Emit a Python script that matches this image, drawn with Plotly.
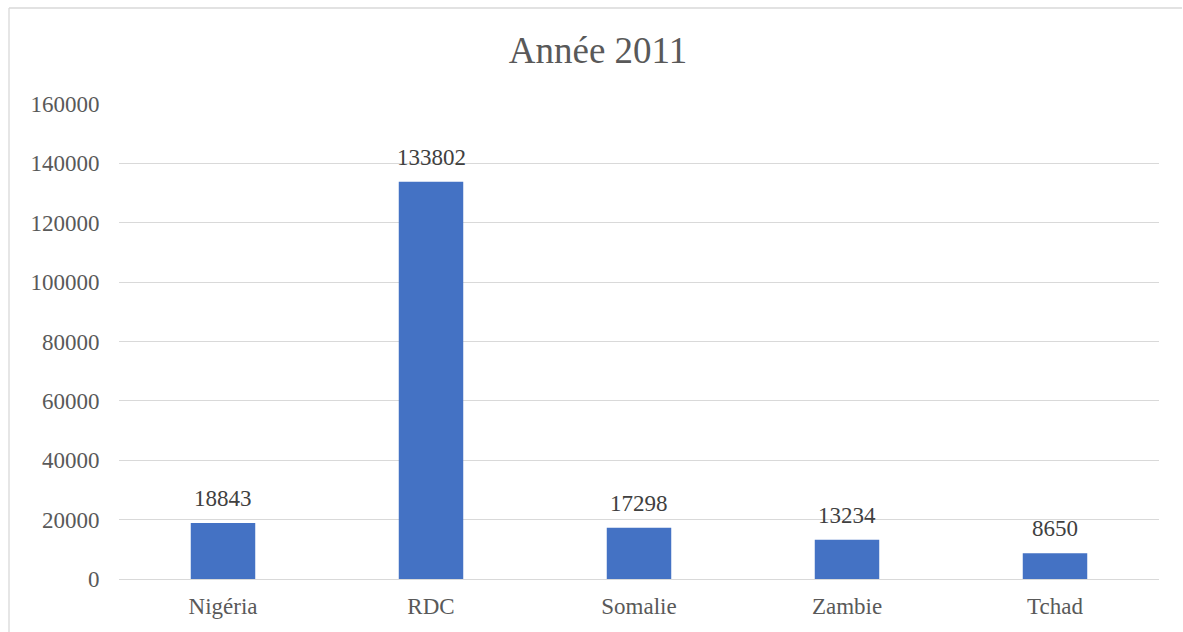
import plotly.graph_objects as go

categories = ["Nigéria", "RDC", "Somalie", "Zambie", "Tchad"]
values = [18843, 133802, 17298, 13234, 8650]
y_ticks = [0, 20000, 40000, 60000, 80000, 100000, 120000, 140000, 160000]

W, H = 1183, 632
L, R, T, B = 119, 24, 104, 53
pw, ph = W - L - R, H - T - B
SERIF = "Liberation Serif, Times New Roman, serif"

fig = go.Figure()
fig.add_trace(go.Bar(
    x=categories, y=values,
    marker=dict(color="#4472C4", line=dict(width=0)),
    width=0.31,
    hoverinfo="x+y",
))

for c, v in zip(categories, values):
    fig.add_annotation(x=c, y=v, text=str(v), showarrow=False,
                       yanchor="bottom", yshift=10,
                       font=dict(family=SERIF, size=23, color="#404040"))

# chart border (left and top visible only), kept inside the canvas
fig.add_shape(type="line", xref="paper", yref="paper",
              x0=(9 - L) / pw, x1=(9 - L) / pw,
              y0=(H - B - H) / ph, y1=(H - B - 8) / ph,
              line=dict(color="#d9d9d9", width=1.3), layer="below")
fig.add_shape(type="line", xref="paper", yref="paper",
              x0=(9 - L) / pw, x1=(W - 1 - L) / pw,
              y0=(H - B - 8) / ph, y1=(H - B - 8) / ph,
              line=dict(color="#d9d9d9", width=1.3), layer="below")

fig.update_layout(
    width=W, height=H,
    margin=dict(l=L, r=R, t=T, b=B),
    paper_bgcolor="white", plot_bgcolor="white",
    title=dict(text="Année 2011", x=598 / W, xanchor="center",
               y=1 - 50 / H, yanchor="middle", yref="container",
               font=dict(family=SERIF, size=37, color="#595959")),
    font=dict(family=SERIF, size=23, color="#595959"),
    showlegend=False,
    bargap=0.69,
)
fig.update_xaxes(showgrid=False, showline=True, linecolor="#d9d9d9", linewidth=1.3,
                 ticks="outside", tickcolor="rgba(0,0,0,0)", ticklen=6,
                 tickfont=dict(family=SERIF, size=23, color="#595959"))
fig.update_yaxes(range=[0, 160000], tickvals=y_ticks, ticktext=[str(t) for t in y_ticks],
                 showgrid=True, gridcolor="#d9d9d9", gridwidth=1.3, zeroline=False,
                 ticks="outside", tickcolor="rgba(0,0,0,0)", ticklen=14,
                 tickfont=dict(family=SERIF, size=23, color="#595959"))

fig.write_html("out.html", config={"displayModeBar": False})
